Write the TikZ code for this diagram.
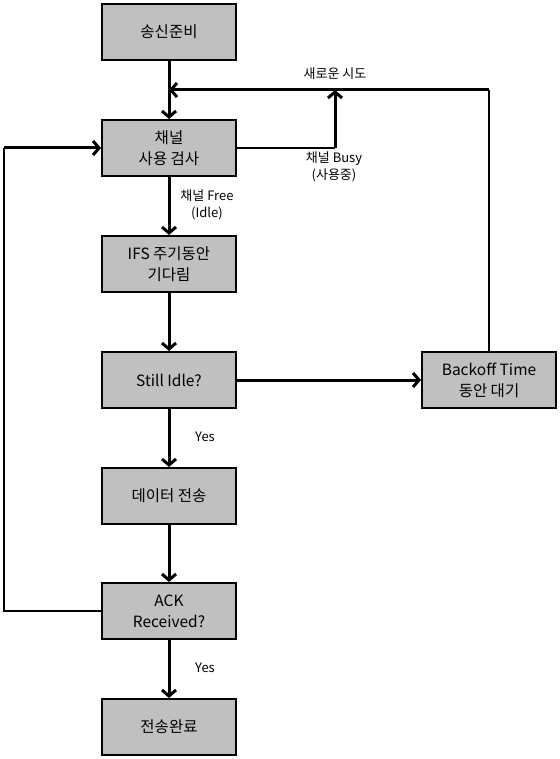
\documentclass[tikz,border=0pt]{standalone}
\usepackage{fontspec}
\setmainfont{Noto Sans CJK KR}
\usetikzlibrary{arrows.meta}
\definecolor{boxgray}{RGB}{192,192,192}
\tikzset{
 stepbox/.style={draw,line width=2pt,fill=boxgray,minimum width=134pt,minimum height=56pt,
  align=center,inner sep=2pt,font=\fontsize{15.5}{21}\selectfont},
 flow/.style={line width=3pt,-{Straight Barb[length=6pt,width=14pt]}},
 link/.style={line width=1.7pt},
 lbl/.style={font=\fontsize{13}{17}\selectfont,align=center}
}

\begin{document}
\begin{tikzpicture}[x=1pt,y=1pt]
 \useasboundingbox (0,0) rectangle (559,-759);
 % boxes
 \node[stepbox] (ready) at (169,-32) {송신준비};
 \node[stepbox] (sense) at (169,-148) {채널\\사용 검사};
 \node[stepbox] (ifs) at (169,-264) {IFS 주기동안\\기다림};
 \node[stepbox] (idle) at (169,-380) {Still Idle?};
 \node[stepbox] (backoff) at (489,-380) {Backoff Time\\동안 대기};
 \node[stepbox] (send) at (169,-496) {데이터 전송};
 \node[stepbox] (ack) at (169,-611) {ACK\\Received?};
 \node[stepbox] (done) at (169,-727) {전송완료};
 % corners
 \coordinate (busy) at (335,-148);
 \coordinate (merge) at (335,-90);
 \coordinate (retry) at (489,-90);
 \coordinate (join) at (169,-90);
 \coordinate (loopb) at (4,-611);
 \coordinate (loopt) at (4,-148);
 % main flow
 \draw[flow] (ready) -- (sense);
 \draw[flow] (sense) -- (ifs);
 \draw[flow] (ifs) -- (idle);
 \draw[flow] (idle) -- (backoff);
 \draw[flow] (idle) -- (send);
 \draw[flow] (send) -- (ack);
 \draw[flow] (ack) -- (done);
 % busy and retry
 \draw[link] (sense.east) -- (busy);
 \draw[flow] (busy) -- (merge);
 \draw[link] (backoff.north) -- (retry);
 \draw[flow] (retry) -- (join);
 % no ack
 \draw[link] (ack.west) -- (loopb) -- (loopt);
 \draw[flow] (loopt) -- (sense.west);
 % labels
 \node[lbl] (lretry) at (335,-74) {새로운 시도};
 \node[lbl] (lbusy) at (334,-167) {채널 Busy\\(사용중)};
 \node[lbl] (lfree) at (207,-205) {채널 Free\\(Idle)};
 \node[lbl] (lyes1) at (205,-437) {Yes};
 \node[lbl] (lyes2) at (205,-668) {Yes};
\end{tikzpicture}
\end{document}
